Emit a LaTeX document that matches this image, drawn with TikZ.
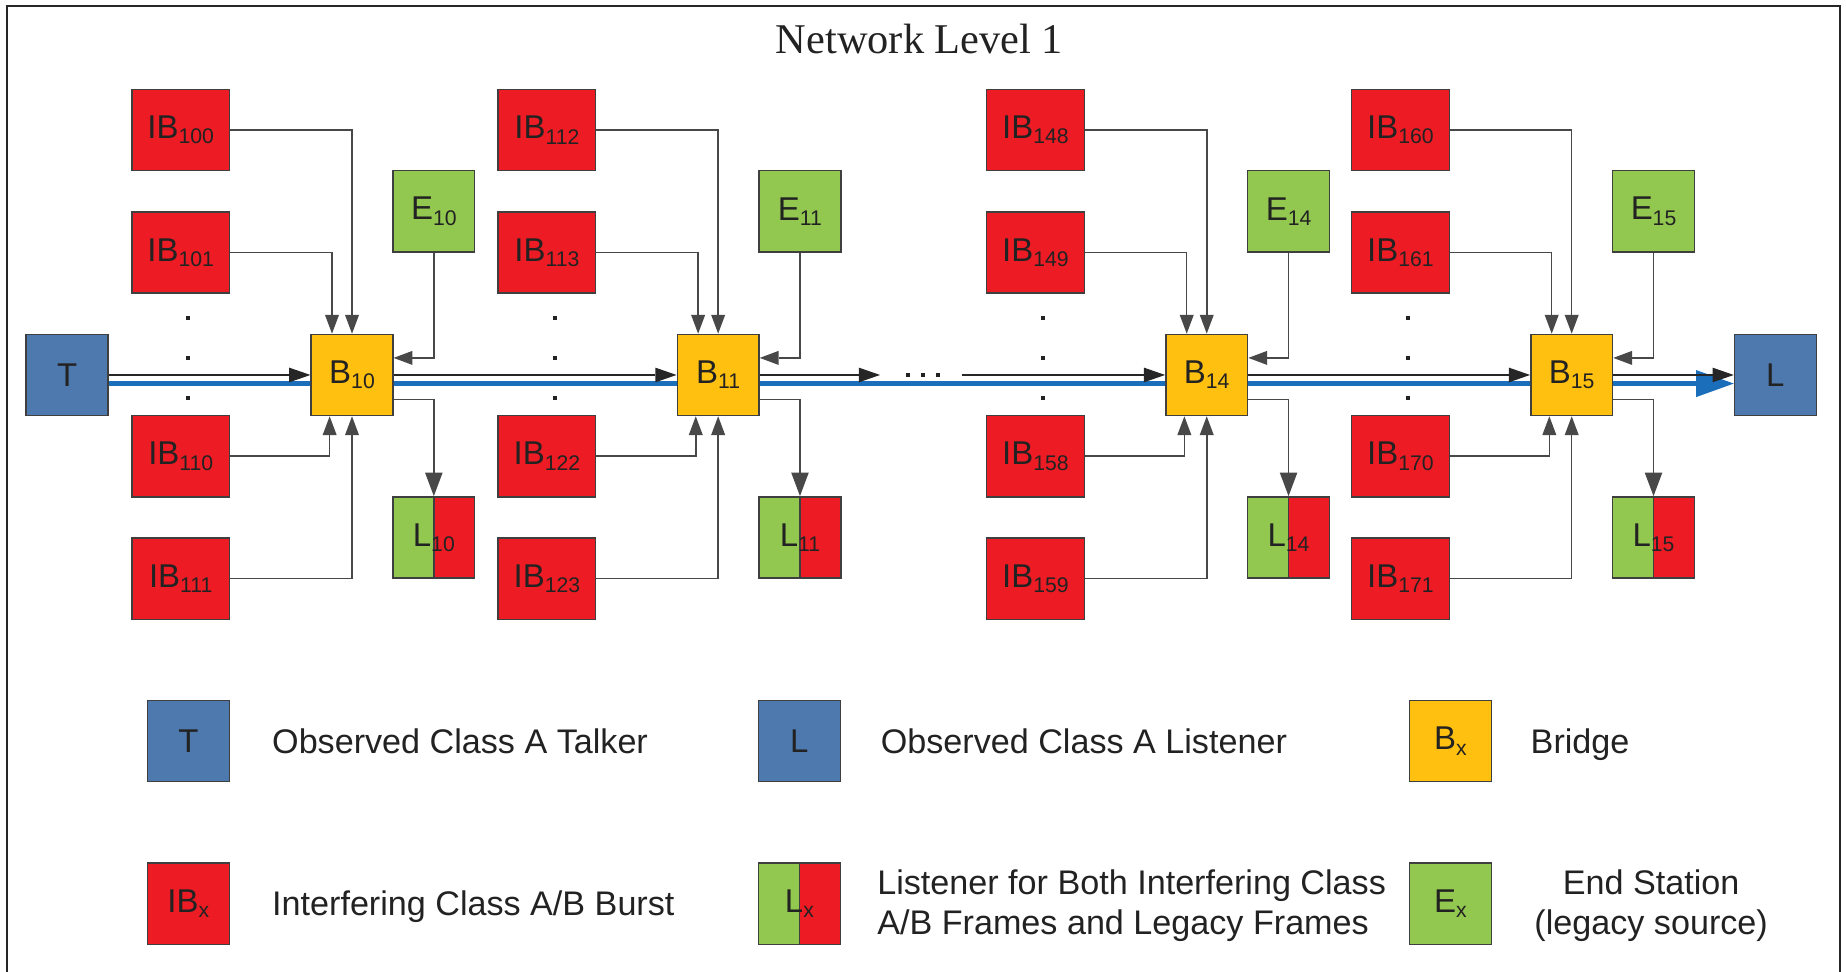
\documentclass[tikz,border=0pt]{standalone}
\usepackage{fontspec}
\setmainfont{Liberation Sans}
\newfontfamily\titlefont{Liberation Serif}
\usetikzlibrary{arrows.meta}
\pgfdeclarelayer{bg}
\pgfsetlayers{bg,main}

\definecolor{ibred}{HTML}{ED1C24}
\definecolor{egreen}{HTML}{92C850}
\definecolor{byellow}{HTML}{FFC00F}
\definecolor{tblue}{HTML}{4E79AF}
\definecolor{lineblue}{HTML}{1A6EBA}
\definecolor{bordergray}{HTML}{3F3F3F}
\definecolor{conngray}{HTML}{484848}
\definecolor{txt}{HTML}{222222}

\newcommand{\lb}[2]{#1\raisebox{-4.5pt}{\fontsize{18}{18}\selectfont #2}}

\tikzset{
  box/.style={draw=bordergray, line width=1.2pt, inner sep=0pt, minimum width=69.5pt, minimum height=69pt, text=txt, font=\fontsize{28}{30}\selectfont},
  ibbox/.style={box, fill=ibred, minimum width=83pt},
  bbox/.style={box, fill=byellow},
  ebox/.style={box, fill=egreen},
  tlbox/.style={box, fill=tblue},
  lbox/.style={box, fill=ibred, path picture={
      \fill[egreen] (path picture bounding box.south west) rectangle (path picture bounding box.north);
      \draw[bordergray, line width=1.2pt] (path picture bounding box.south) -- (path picture bounding box.north);}},
  conn/.style={conngray, line width=1.3pt, -{Triangle[length=16pt,width=12pt,line width=0pt]}},
  lconn/.style={conngray, line width=1.3pt, -{Triangle[length=20pt,width=15pt,line width=0pt]}},
  mainarr/.style={black!85, line width=1.3pt, -{Triangle[length=18pt,width=12.5pt,line width=0pt]}},
  blueline/.style={lineblue, line width=4.2pt, -{Triangle[length=32pt,width=23pt,line width=0pt]}},
  legtext/.style={text=txt, inner sep=0pt, font=\fontsize{29}{34}\selectfont},
  dotsq/.style={fill=txt}
}

\begin{document}
\begin{tikzpicture}[x=1pt,y=-1pt]
\useasboundingbox (0,0) rectangle (1568,825);
% frame
\draw[line width=2pt, black!85] (6,830) -- (6,5) -- (1563,5) -- (1563,830);
% title
\node[font=\titlefont\fontsize{36}{40}\selectfont, text=txt] (title) at (781,33) {Network Level 1};

% talker and listener
\node[tlbox] (T) at (57,318.5) {T};
\node[tlbox] (L) at (1508,318.5) {L};

% groups
\foreach \bx/\g/\ua/\ub/\uc/\ud/\n in {264/1/100/101/110/111/10, 575/2/112/113/122/123/11, 990/3/148/149/158/159/14, 1300/4/160/161/170/171/15}{
  \node[ibbox] (ia\g) at ({\bx-110.5},110.5) {\lb{IB}{\ua}};
  \node[ibbox] (ib\g) at ({\bx-110.5},214.5) {\lb{IB}{\ub}};
  \node[ibbox] (ic\g) at ({\bx-110.5},387.5) {\lb{IB}{\uc}};
  \node[ibbox] (id\g) at ({\bx-110.5},491.5) {\lb{IB}{\ud}};
  \node[bbox] (b\g) at ({\bx+35},318.5) {\lb{B}{\n}};
  \node[ebox] (e\g) at ({\bx+104.5},179.5) {\lb{E}{\n}};
  \node[lbox] (l\g) at ({\bx+104.5},456.5) {\lb{L}{\n}};
  \foreach \yy in {270,304,338}{
    \fill[dotsq] ({\bx-105.7},{\yy-1.7}) rectangle +(3.4,3.4);
  }
  \begin{pgfonlayer}{bg}
    \draw[conn] (ia\g.east) -| (b\g.north);
    \draw[conn] (ib\g.east) -| ([xshift=-17pt]b\g.north);
    \draw[conn] (ic\g.east) -| ([xshift=-19pt]b\g.south);
    \draw[conn] (id\g.east) -| (b\g.south);
    \draw[conn] (e\g.south) |- ([yshift=14.5pt]b\g.east);
    \draw[lconn] ([yshift=-21pt]b\g.east) -| (l\g.north);
  \end{pgfonlayer}
}

% main path
\coordinate (m1) at (747.5,318.5);
\coordinate (m2) at (817,318.5);
\begin{pgfonlayer}{bg}
  \draw[blueline] ([yshift=-7.3pt]T.east) -- ([yshift=-7.3pt]L.west);
  \draw[mainarr] (T.east) -- (b1.west);
  \draw[mainarr] (b1.east) -- (b2.west);
  \draw[mainarr] (b2.east) -- (m1);
  \draw[mainarr] (m2) -- (b3.west);
  \draw[mainarr] (b3.east) -- (b4.west);
  \draw[mainarr] (b4.east) -- (L.west);
\end{pgfonlayer}
\foreach \xx in {771,784,797}{
  \fill[dotsq] ({\xx-1.7},316.8) rectangle +(3.4,3.4);
}

% legend
\node[tlbox] (lgT) at (160,629.5) {T};
\node[legtext, anchor=base west] (lgTt) at (231,640) {Observed Class A Talker};
\node[tlbox] (lgL) at (679,629.5) {L};
\node[legtext, anchor=base west] (lgLt) at (748,640) {Observed Class A Listener};
\node[bbox] (lgB) at (1232,629.5) {\lb{B}{x}};
\node[legtext, anchor=base west] (lgBt) at (1300,640) {Bridge};

\node[ibbox, minimum width=69.5pt] (lgIB) at (160,767.5) {\lb{IB}{x}};
\node[legtext, anchor=base west] (lgIBt) at (231,778) {Interfering Class A/B Burst};
\node[lbox] (lgLx) at (679,767.5) {\lb{L}{x}};
\node[legtext, anchor=west, align=left] (lgLxt) at (745,769.5) {Listener for Both Interfering Class\\A/B Frames and Legacy Frames};
\node[ebox] (lgE) at (1232,767.5) {\lb{E}{x}};
\node[legtext, align=center] (lgEt) at (1402.5,769.5) {End Station\\(legacy source)};
\end{tikzpicture}
\end{document}
